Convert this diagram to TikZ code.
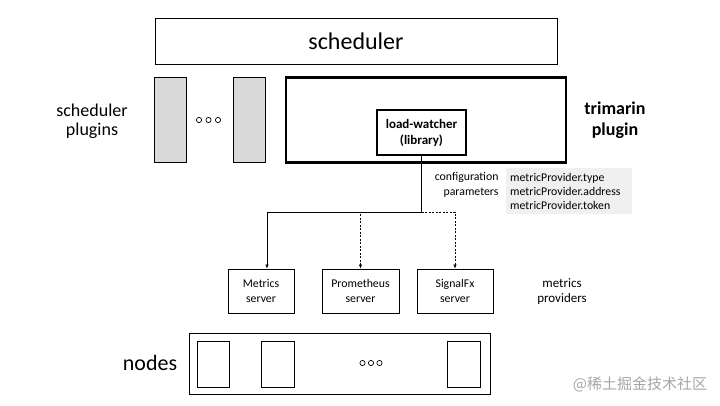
\documentclass[tikz,border=0pt]{standalone}
\usepackage{fontspec}
\setmainfont{Carlito}
\newfontfamily\cjk{Noto Sans CJK SC}
\usetikzlibrary{positioning, arrows.meta}

\begin{document}
\begin{tikzpicture}[x=1pt, y=-1pt,
  box/.style={draw, line width=0.8pt, inner sep=0pt, align=center},
  plug/.style={box, fill=black!15, minimum width=32pt, minimum height=85pt},
  boldbox/.style={draw, line width=2.5pt, inner sep=0pt, align=center},
  server/.style={box, minimum height=44pt, font=\fontsize{11.8}{15}\selectfont},
  link/.style={line width=0.7pt, -{Latex[length=4pt,width=3.5pt]}}]
\useasboundingbox (0,0) rectangle (720,405);
\node[box, minimum width=402pt, minimum height=46pt, font=\fontsize{24}{28}\selectfont] (sched) at (356,41) {scheduler};
\node[plug] (plugA) at (170.5,119.5) {};
\node[plug] (plugB) at (249,119.5) {};
\foreach \i in {0,1,2} \draw[line width=0.7pt] (199+9.5*\i,120) circle (2.6pt);
\node[font=\fontsize{18}{19}\selectfont, align=center] (plugtxt) at (92,121) {scheduler\\plugins};
\node[boldbox, minimum width=280pt, minimum height=85pt] (trim) at (426,120) {};
\node[boldbox, minimum width=89pt, minimum height=45pt, font=\bfseries\fontsize{13}{16}\selectfont] (lw) at (421.5,132.5) {load-watcher\\(library)};
\node[font=\bfseries\fontsize{18}{21}\selectfont, align=center] (trimtxt) at (615,120) {trimarin\\plugin};
\node[align=right, anchor=east, font=\fontsize{11.8}{15}\selectfont] (cfg) at (502,184.5) {configuration\\parameters};
\node[fill=black!6, anchor=north west, text width=118pt, minimum height=46pt, inner sep=4pt, align=left, font=\fontsize{11.8}{14}\selectfont] (params) at (506,168) {metricProvider.type\\metricProvider.address\\metricProvider.token};
\node[server, minimum width=66pt] (metrics) at (261,291) {Metrics\\server};
\node[server, minimum width=77pt] (prom) at (360.5,291) {Prometheus\\server};
\node[server, minimum width=76pt] (sfx) at (455,291) {SignalFx\\server};
\node[font=\fontsize{13}{15}\selectfont, align=center] (provtxt) at (562,292) {metrics\\providers};
\coordinate (bus) at (0,212);
\draw[link] (lw.south) -- (lw.south |- bus) -| ([xshift=6pt]metrics.north);
\draw[link, dash pattern=on 2pt off 1.5pt] (lw.south) -- (lw.south |- bus) -| (prom.north);
\draw[link, dash pattern=on 2pt off 1.5pt] (lw.south) -- (lw.south |- bus) -| (sfx.north);
\node[box, minimum width=301pt, minimum height=61pt] (nodebox) at (339.5,363.5) {};
\node[box, minimum width=32pt, minimum height=46pt] (n1) at (213,364) {};
\node[box, minimum width=33pt, minimum height=46pt] (n2) at (277.5,364) {};
\node[box, minimum width=33pt, minimum height=46pt] (n3) at (463.5,364) {};
\foreach \i in {-1,0,1} \draw[line width=0.7pt] (371+8.5*\i,363) circle (2.6pt);
\node[font=\fontsize{22}{24}\selectfont] (nodetxt) at (150,363) {nodes};
\node[font=\cjk\fontsize{15}{16}\selectfont, text=black!35] (mark) at (640,384) {@稀土掘金技术社区};
\end{tikzpicture}
\end{document}
